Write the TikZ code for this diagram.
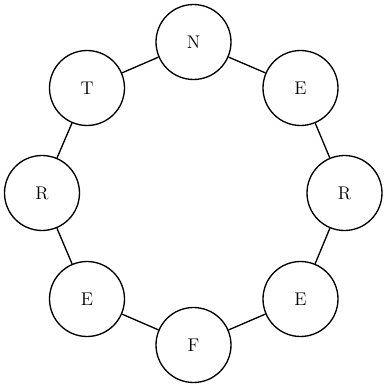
\documentclass[tikz,border=0pt]{standalone}
\begin{document}
\begin{tikzpicture}[x=0.6pt,y=-0.6pt,
  letter/.style={circle,draw,line width=0.8pt,minimum size=45pt,inner sep=0pt,font=\fontsize{11}{13}\selectfont},
  link/.style={line width=0.8pt}]
\useasboundingbox (0,0) rectangle (384,385);
\node[letter] (n)  at (193.5,42)  {N};
\node[letter] (e1) at (300.5,88)  {E};
\node[letter] (r1) at (344.5,193) {R};
\node[letter] (e2) at (300.5,299) {E};
\node[letter] (f)  at (193.5,345) {F};
\node[letter] (e3) at (87,299)  {E};
\node[letter] (r2) at (42,193)  {R};
\node[letter] (t)  at (87,88)   {T};
\draw[link] (n) -- (e1);
\draw[link] (e1) -- (r1);
\draw[link] (r1) -- (e2);
\draw[link] (e2) -- (f);
\draw[link] (f) -- (e3);
\draw[link] (e3) -- (r2);
\draw[link] (r2) -- (t);
\draw[link] (t) -- (n);
\end{tikzpicture}
\end{document}
